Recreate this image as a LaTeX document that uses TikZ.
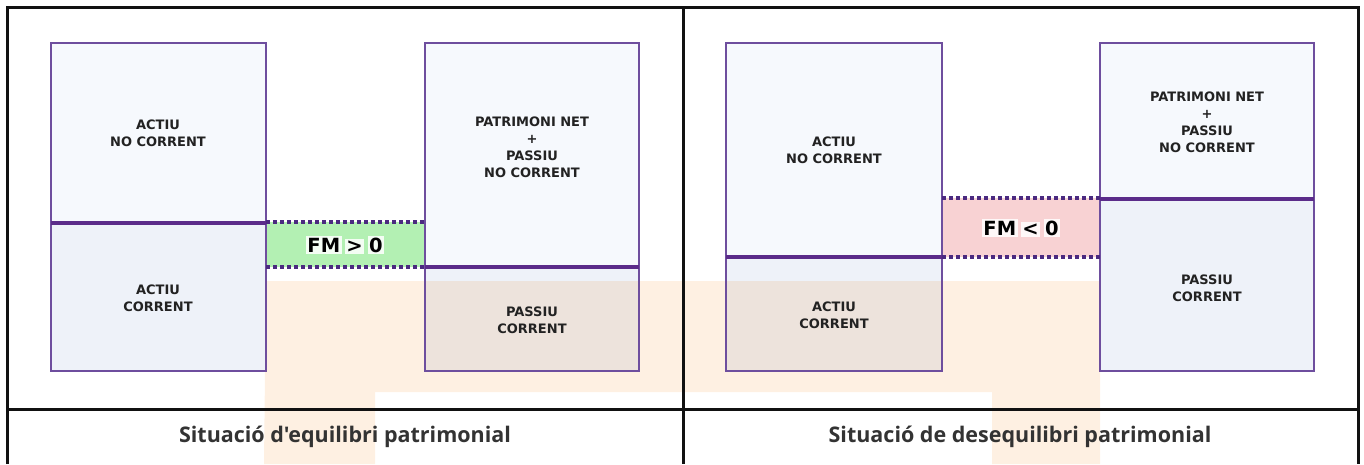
\documentclass[tikz,border=0pt]{standalone}
\usepackage{fontspec}
\usepackage{xcolor}
\usepackage{tikz}
\usetikzlibrary{calc}
\setmainfont{Open Sans}[Ligatures=TeXOff]
\newfontfamily\boxfamily{DejaVu Sans}
\definecolor{framegray}{HTML}{111111}
\definecolor{boxpurple}{HTML}{6E4E9E}
\definecolor{deeppurple}{HTML}{5B2C8A}
\definecolor{dotpurple}{HTML}{4B2A80}
\definecolor{paleblue}{HTML}{F6F9FD}
\definecolor{softblue}{HTML}{EEF2F9}
\definecolor{softgreen}{HTML}{B3F0B3}
\definecolor{softred}{HTML}{F8D2D3}
\definecolor{watermark}{HTML}{FEF0E2}
\definecolor{labelgray}{HTML}{222222}
\definecolor{titlegray}{HTML}{333333}
\newcommand{\halo}[1]{{\setlength{\fboxsep}{1.5pt}\colorbox{white!85!softgreen}{#1}}}
\newcommand{\haloneg}[1]{{\setlength{\fboxsep}{1.5pt}\colorbox{white!85!softred}{#1}}}
\tikzset{
  frm/.style={line width=3pt, draw=framegray},
  boxedge/.style={draw=boxpurple, line width=2pt},
  splitline/.style={draw=deeppurple, line width=3.4pt},
  fmline/.style={draw=dotpurple, line width=3.4pt, dash pattern=on 4pt off 3pt},
  lbl/.style={font=\boxfamily\bfseries\fontsize{13}{17}\selectfont, text=labelgray, align=center, inner sep=0pt},
  fmtxt/.style={font=\boxfamily\bfseries\fontsize{19.5}{22}\selectfont, inner sep=0pt},
  ttl/.style={font=\bfseries\fontsize{21.5}{24}\selectfont, text=titlegray, inner sep=0pt},
}
\begin{document}
\begin{tikzpicture}[x=1pt, y=-1pt]
    \useasboundingbox (0,0) rectangle (1364,464);
    % left panel fills
    \fill[paleblue] (51,43) rectangle (266,223);
    \fill[softblue] (51,223) rectangle (266,371);
    \fill[paleblue] (425,43) rectangle (639,267);
    \fill[softblue] (425,267) rectangle (639,371);
    \fill[softgreen] (266,222) rectangle (425,267);
    % right panel fills
    \fill[paleblue] (726,43) rectangle (942,257);
    \fill[softblue] (726,257) rectangle (942,371);
    \fill[paleblue] (1100,43) rectangle (1314,199);
    \fill[softblue] (1100,199) rectangle (1314,371);
    \fill[softred] (942,198) rectangle (1100,257);
    % watermark band
    \begin{scope}[blend mode=multiply]
      \fill[watermark] (266,281) -- (1100,281) -- (1100,464) -- (992,464) -- (992,392)
        -- (375,392) -- (375,464) -- (264,464) -- cycle;
    \end{scope}
    % boxes and split lines
    \draw[boxedge] (51,43) rectangle (266,371);
    \draw[boxedge] (425,43) rectangle (639,371);
    \draw[boxedge] (726,43) rectangle (942,371);
    \draw[boxedge] (1100,43) rectangle (1314,371);
    \draw[splitline] (51,223) -- (266,223);
    \draw[splitline] (425,267) -- (639,267);
    \draw[splitline] (726,257) -- (942,257);
    \draw[splitline] (1100,199) -- (1314,199);
    \draw[fmline] (266,222) -- (425,222);
    \draw[fmline] (266,267) -- (425,267);
    \draw[fmline] (942,198) -- (1100,198);
    \draw[fmline] (942,257) -- (1100,257);
    % labels
    \node[lbl] (anc) at (158,133) {ACTIU\\NO CORRENT};
    \node[lbl] (ac) at (158,298) {ACTIU\\CORRENT};
    \node[lbl] (pnpnc) at (532,147) {PATRIMONI NET\\+\\PASSIU\\NO CORRENT};
    \node[lbl] (pc) at (532,320) {PASSIU\\CORRENT};
    \node[fmtxt] (fmpos) at (345,245) {\halo{FM}\,\halo{>}\,\halo{0}};
    \node[lbl] (anc2) at (834,150) {ACTIU\\NO CORRENT};
    \node[lbl] (ac2) at (834,315) {ACTIU\\CORRENT};
    \node[lbl] (pnpnc2) at (1207,122) {PATRIMONI NET\\+\\PASSIU\\NO CORRENT};
    \node[lbl] (pc2) at (1207,288) {PASSIU\\CORRENT};
    \node[fmtxt] (fmneg) at (1021,228) {\haloneg{FM}\,\haloneg{<}\,\haloneg{0}};
    % table frame
    \draw[frm] (7,464) -- (7,7) -- (1358,7) -- (1358,464);
    \draw[frm] (683,7) -- (683,464);
    \draw[frm] (7,409) -- (1358,409);
    \node[ttl] (eq) at (345,437) {Situació d'equilibri patrimonial};
    \node[ttl] (deseq) at (1020,437) {Situació de desequilibri patrimonial};
\end{tikzpicture}
\end{document}
